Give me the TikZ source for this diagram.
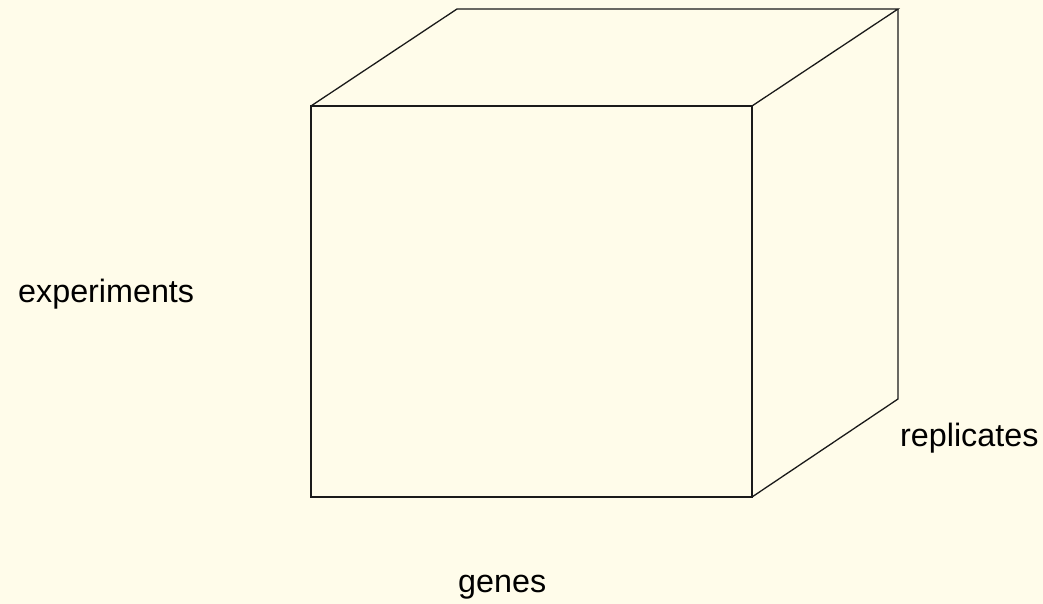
\documentclass[tikz,border=0pt]{standalone}
\usepackage{fontspec}
\setmainfont{Liberation Sans}
\definecolor{paper}{HTML}{FFFCEA}
\definecolor{ink}{HTML}{1A1A1A}
\begin{document}
\begin{tikzpicture}[x=1pt,y=1pt,
  edge/.style={draw=ink,line width=1.3pt,line join=miter},
  axislabel/.style={inner sep=0pt,anchor=base west,font=\fontsize{32.3}{38}\selectfont,text=black}]
  \fill[paper] (0,0) rectangle (1043,604);
  \useasboundingbox (0,0) rectangle (1043,604);
  % cube corners
  \coordinate (ftl) at (311,498);
  \coordinate (ftr) at (752,498);
  \coordinate (fbr) at (752,107);
  \coordinate (fbl) at (311,107);
  \coordinate (btl) at (457,595);
  \coordinate (btr) at (898,595);
  \coordinate (bbr) at (898,205);
  % front face
  \draw[edge] (ftl) -- (ftr) -- (fbr) -- (fbl) -- cycle;
  % top and side faces
  \draw[edge] (ftl) -- (btl) -- (btr) -- (ftr);
  \draw[edge] (btr) -- (bbr) -- (fbr);
  % axis labels
  \node[axislabel] (exp) at (18,301) {experiments};
  \node[axislabel] (gen) at (458,11) {genes};
  \node[axislabel] (rep) at (900,157) {replicates};
\end{tikzpicture}
\end{document}
